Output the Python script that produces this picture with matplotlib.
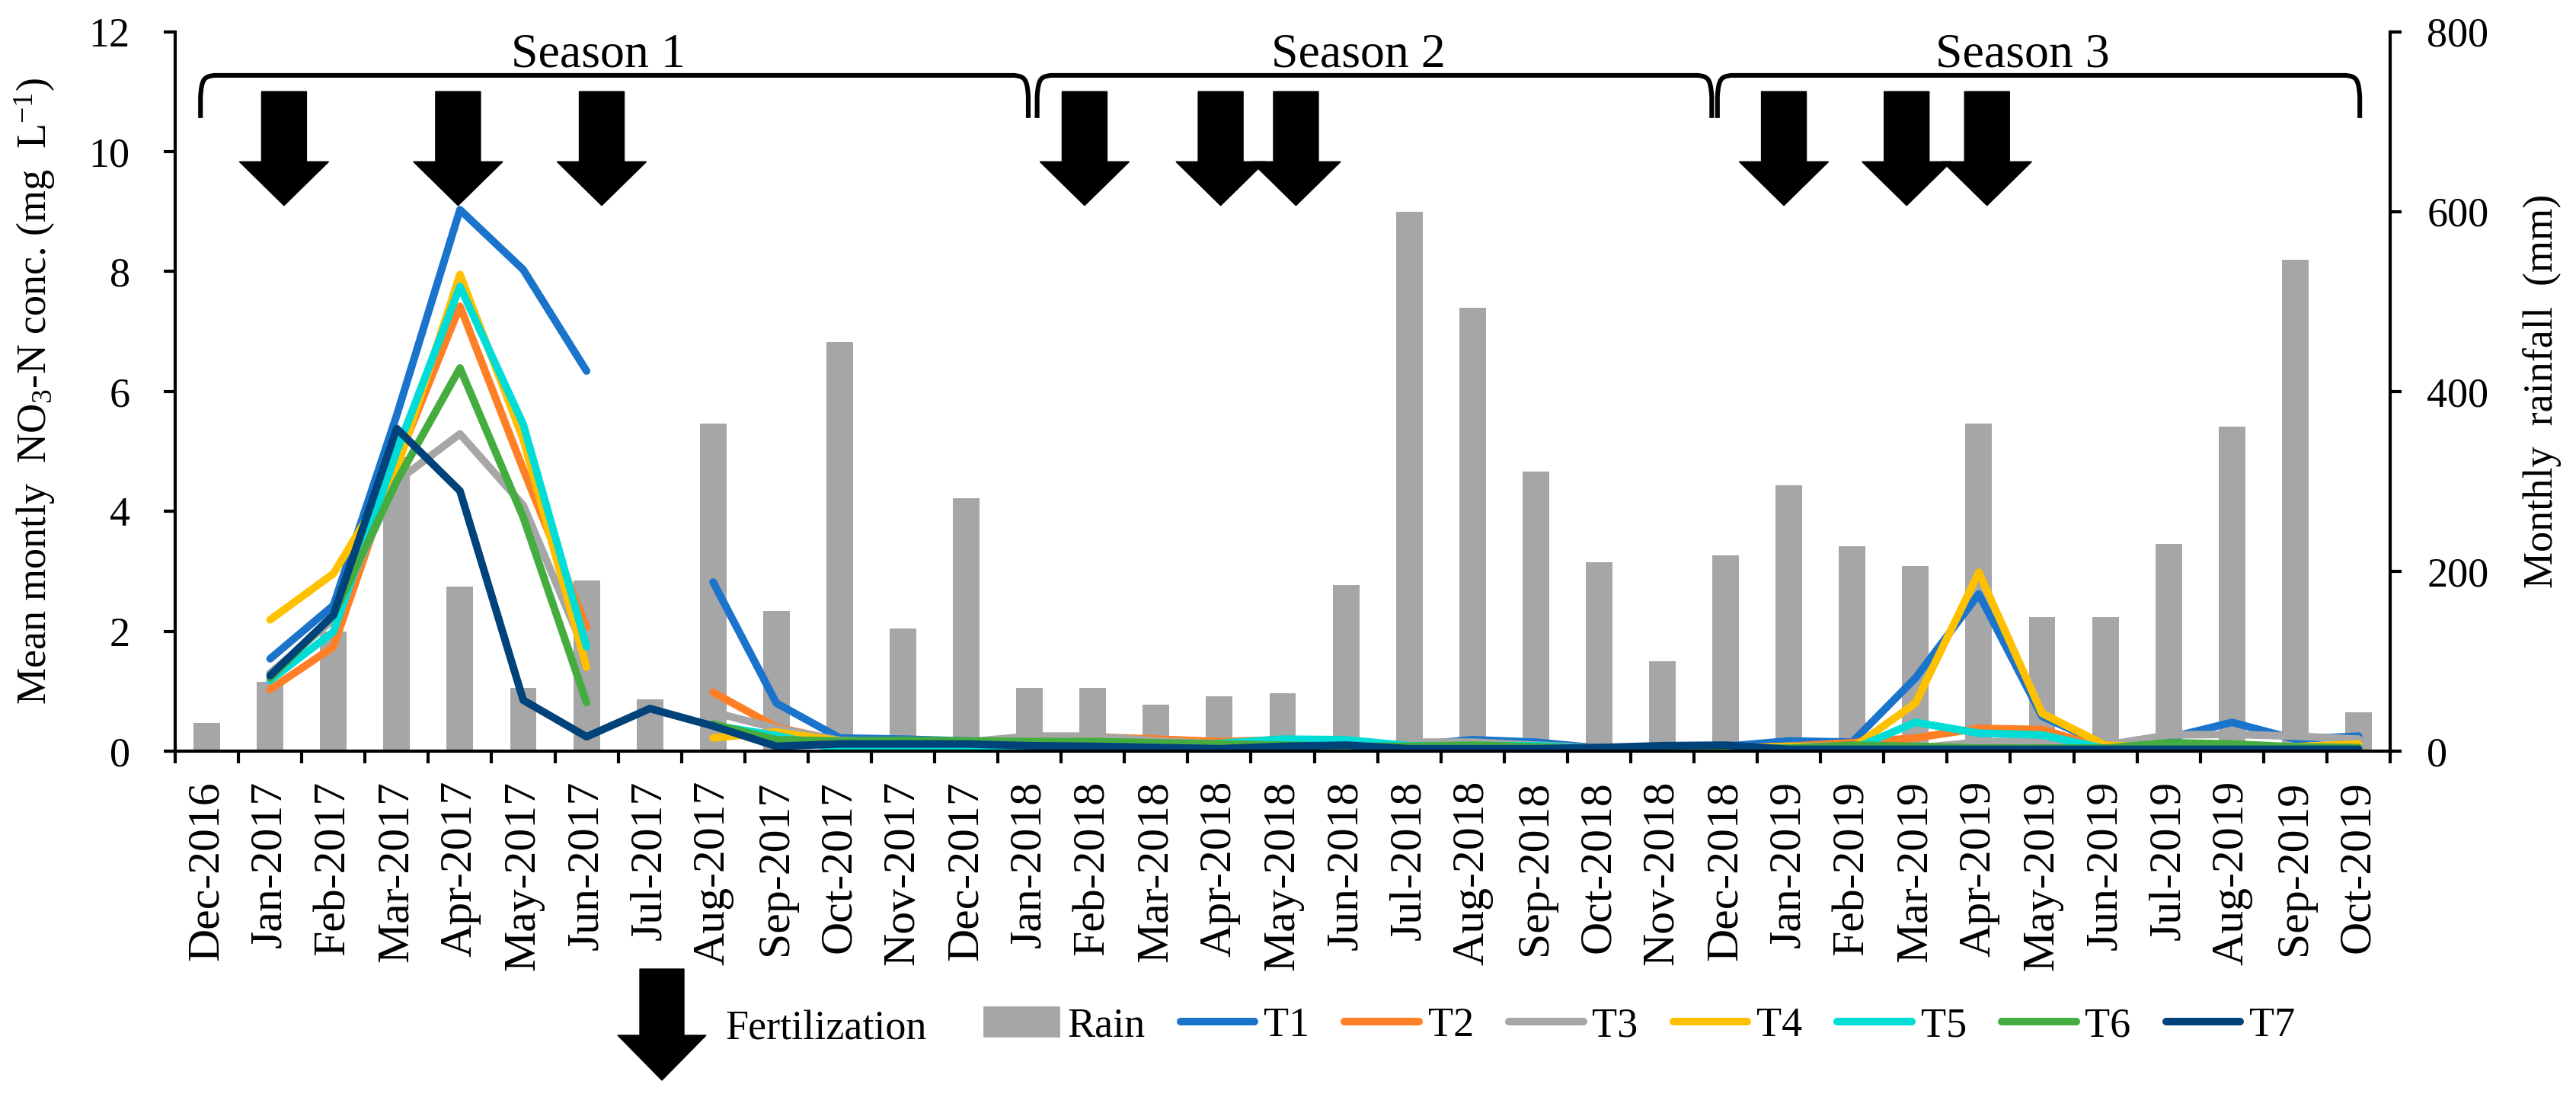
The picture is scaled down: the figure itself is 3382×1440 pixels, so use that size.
import numpy as np
import matplotlib
matplotlib.use("Agg")
import matplotlib.pyplot as plt
from matplotlib.patches import Polygon, Patch, PathPatch
from matplotlib.lines import Line2D
from matplotlib.path import Path

plt.rcParams['font.family'] = ['Liberation Serif', 'DejaVu Serif']
plt.rcParams['mathtext.fontset'] = 'custom'
plt.rcParams['mathtext.rm'] = 'Liberation Serif'
plt.rcParams['mathtext.default'] = 'regular'
plt.rcParams['lines.solid_capstyle'] = 'round'
plt.rcParams['lines.solid_joinstyle'] = 'round'

# Datos
nan = np.nan
months = [
    "Dec-2016", "Jan-2017", "Feb-2017", "Mar-2017", "Apr-2017", "May-2017",
    "Jun-2017", "Jul-2017", "Aug-2017", "Sep-2017", "Oct-2017", "Nov-2017",
    "Dec-2017", "Jan-2018", "Feb-2018", "Mar-2018", "Apr-2018", "May-2018",
    "Jun-2018", "Jul-2018", "Aug-2018", "Sep-2018", "Oct-2018", "Nov-2018",
    "Dec-2018", "Jan-2019", "Feb-2019", "Mar-2019", "Apr-2019", "May-2019",
    "Jun-2019", "Jul-2019", "Aug-2019", "Sep-2019", "Oct-2019",
]

rain = [31, 77, 133, 327, 183, 70, 190, 58, 364, 156, 455, 136,
        281, 70, 70, 52, 61, 64, 185, 600, 493, 311, 210, 100,
        218, 296, 228, 206, 364, 149, 149, 230, 361, 546, 43]

t1 = [nan, 1.54, 2.43, 5.6, 9.03, 8.03, 6.34, nan, 2.82, 0.80, 0.22, 0.20,
      0.17, 0.15, 0.12, 0.10, 0.08, 0.10, 0.12, 0.10, 0.19, 0.15, 0.05, 0.06,
      0.08, 0.17, 0.15, 1.22, 2.62, 0.58, 0.10, 0.22, 0.48, 0.20, 0.25]
t2 = [nan, 1.03, 1.74, 4.8, 7.42, 4.7, 2.07, nan, 0.98, 0.40, 0.17, 0.15,
      0.15, 0.20, 0.24, 0.20, 0.16, 0.19, 0.15, 0.08, 0.06, 0.05, 0.03, 0.04,
      0.05, 0.08, 0.14, 0.22, 0.38, 0.36, 0.05, 0.05, 0.05, 0.05, 0.06]
t3 = [nan, 1.30, 2.20, 4.5, 5.29, 4.10, 1.60, nan, 0.65, 0.38, 0.18, 0.15,
      0.15, 0.25, 0.25, 0.17, 0.12, 0.12, 0.00, 0.15, 0.15, 0.10, 0.05, 0.05,
      0.05, 0.08, 0.08, 0.05, 0.15, 0.18, 0.10, 0.27, 0.28, 0.25, 0.20]
t4 = [nan, 2.19, 2.96, 4.7, 7.95, 5.2, 1.40, nan, 0.22, 0.32, 0.17, 0.12,
      0.10, 0.08, 0.08, 0.08, 0.07, 0.07, 0.08, 0.06, 0.06, 0.05, 0.03, 0.05,
      0.05, 0.08, 0.05, 0.80, 2.98, 0.63, 0.10, 0.05, 0.05, 0.07, 0.12]
t5 = [nan, 1.18, 1.99, 5.0, 7.75, 5.45, 1.74, nan, 0.43, 0.26, 0.03, 0.05,
      0.02, 0.05, 0.05, 0.05, 0.13, 0.20, 0.19, 0.09, 0.09, 0.09, 0.04, 0.04,
      0.05, 0.05, 0.03, 0.48, 0.30, 0.27, 0.04, 0.04, 0.04, 0.04, 0.04]
t6 = [nan, 1.22, 2.27, 4.5, 6.39, 3.9, 0.81, nan, 0.45, 0.19, 0.17, 0.18,
      0.17, 0.16, 0.16, 0.14, 0.12, 0.10, 0.08, 0.08, 0.10, 0.07, 0.04, 0.04,
      0.04, 0.05, 0.10, 0.08, 0.05, 0.05, 0.05, 0.14, 0.12, 0.07, 0.06]
t7 = [nan, 1.26, 2.27, 5.38, 4.34, 0.85, 0.24, 0.71, 0.42, 0.08, 0.12, 0.12,
      0.12, 0.09, 0.08, 0.06, 0.04, 0.08, 0.10, 0.04, 0.04, 0.04, 0.06, 0.09,
      0.10, 0.03, 0.03, 0.03, 0.03, 0.03, 0.03, 0.03, 0.03, 0.03, 0.03]

series = [t1, t2, t3, t4, t5, t6, t7]
series_names = ["T1", "T2", "T3", "T4", "T5", "T6", "T7"]
colors = ["#1A74CB", "#FF7F27", "#A6A6A6", "#FFC000",
          "#00DDD6", "#45AD3F", "#00427A"]

# Temporadas (posicion en indices de mes) y fertilizaciones
season_names = ["Season 1", "Season 2", "Season 3"]
season_edges = [(-0.1, 12.98), (13.12, 23.78), (23.87, 34.02)]
fert_pos = [1.22, 3.97, 6.24, 13.87, 16.02, 17.21, 24.92, 26.86, 28.13]

W, H = 3382, 1440
DPI = 200
fig = plt.figure(figsize=(W / DPI, H / DPI), dpi=DPI)
ax = fig.add_axes([230 / W, 1 - 986 / H, (3138 - 230) / W, (986 - 41.5) / H])
ax2 = ax.twinx()

x = np.arange(len(months))

# Barras de lluvia en el eje derecho
ax2.bar(x, rain, width=0.42, color="#A6A6A6", zorder=1)
ax2.set_ylim(0, 800)
ax2.set_yticks(np.arange(0, 801, 200))

# Lineas de concentracion en el eje izquierdo, por encima de las barras
ax.set_zorder(ax2.get_zorder() + 1)
ax.patch.set_visible(False)
for vals, c in zip(series, colors):
    ax.plot(x, vals, color=c, lw=3.6)

ax.set_xlim(-0.5, len(months) - 0.5)
ax.set_ylim(0, 12)
ax.set_yticks(np.arange(0, 13, 2))
ax.set_xticks(x)
ax.set_xticklabels(months, rotation=90)
ax.set_xticks(np.arange(-0.5, len(months)), minor=True)

ax.tick_params(axis='x', which='major', length=0, pad=14, labelsize=21.5)
ax.tick_params(axis='x', which='minor', length=5.8, width=1.5, direction='out')
ax.tick_params(axis='y', length=5.4, width=1.5, direction='out', pad=16,
               labelsize=19.5)
ax2.tick_params(axis='y', length=5.4, width=1.5, direction='out', pad=12,
                labelsize=19.5)

for s in ['top', 'right']:
    ax.spines[s].set_visible(False)
for s in ['top', 'left', 'bottom']:
    ax2.spines[s].set_visible(False)
ax.spines['left'].set_linewidth(1.5)
ax.spines['bottom'].set_linewidth(1.5)
ax2.spines['right'].set_linewidth(1.5)

ax.set_ylabel(r"Mean montly  NO$_3$-N conc. (mg  L$^{-1}$)", fontsize=19.5,
              labelpad=15)
ax2.set_ylabel("Monthly  rainfall  (mm)", fontsize=19.5, labelpad=16)

# Llaves de las temporadas
y_top, y_low = 11.27, 10.56
for name, (x0, x1) in zip(season_names, season_edges):
    verts = [(x0, y_low), (x0, y_top - 0.35),
             (x0 + 0.02, y_top - 0.05), (x0 + 0.06, y_top - 0.02), (x0 + 0.22, y_top),
             (x1 - 0.22, y_top),
             (x1 - 0.06, y_top - 0.02), (x1 - 0.02, y_top - 0.05), (x1, y_top - 0.35),
             (x1, y_low)]
    codes = [Path.MOVETO, Path.LINETO,
             Path.CURVE4, Path.CURVE4, Path.CURVE4,
             Path.LINETO,
             Path.CURVE4, Path.CURVE4, Path.CURVE4,
             Path.LINETO]
    ax.add_patch(PathPatch(Path(verts, codes), fill=False, lw=2.2,
                           ec='black', clip_on=False, zorder=5))
    ax.text((x0 + x1) / 2 - 0.25, 11.41, name, ha='center', va='baseline',
            fontsize=23, clip_on=False)

# Flechas de fertilizacion
shaft, head = 0.355, 0.705
y_a, y_b, y_c = 11.0, 9.83, 9.1
for p in fert_pos:
    pts = [(p - shaft, y_a), (p + shaft, y_a), (p + shaft, y_b), (p + head, y_b),
           (p, y_c), (p - head, y_b), (p - shaft, y_b)]
    ax.add_patch(Polygon(pts, closed=True, fc='black', ec='black', lw=0.5,
                         clip_on=False, zorder=6))

# Leyenda: flecha de fertilizacion
def fp(px, py):
    return (px / W, 1 - py / H)

leg_arrow = [fp(840, 1272), fp(898, 1272), fp(898, 1359), fp(927, 1359),
             fp(869, 1418), fp(811, 1359), fp(840, 1359)]
fig.patches.append(Polygon(leg_arrow, closed=True, fc='black', ec='black',
                           lw=0.5, transform=fig.transFigure, figure=fig))
fig.text(952 / W, 1 - 1351 / H, "Fertilization", ha='left', va='center',
         fontsize=19.5)

handles = [Patch(color="#A6A6A6", label="Rain")]
handles += [Line2D([], [], color=c, lw=3.6, label=n)
            for c, n in zip(colors, series_names)]
fig.legend(handles=handles, loc='center left',
           bbox_to_anchor=(1292 / W, 1 - 1347 / H), ncol=8, frameon=False,
           fontsize=19.5, handlelength=1.8, handletextpad=0.22,
           columnspacing=0.85, borderpad=0, borderaxespad=0)

fig.savefig("out.png", dpi=DPI)
